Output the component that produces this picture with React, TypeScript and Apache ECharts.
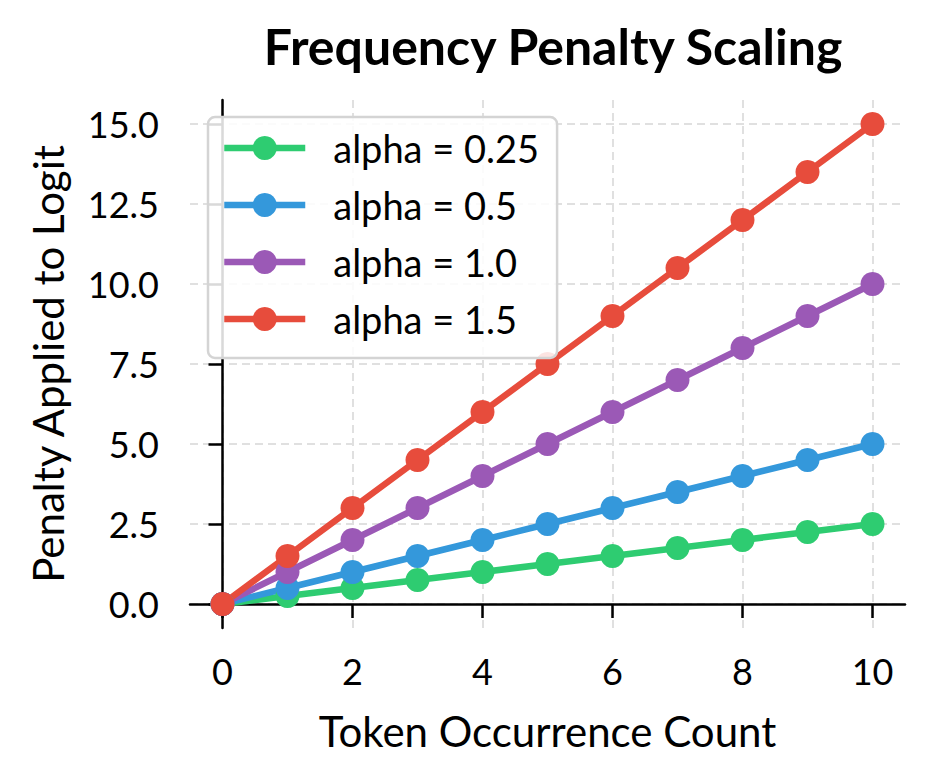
// Frequency penalty: penalty applied to the logit vs. token occurrence count, one line per alpha.
import { useEffect, useRef } from 'react'
import * as echarts from 'echarts'

const COUNTS = [0, 1, 2, 3, 4, 5, 6, 7, 8, 9, 10]
const ALPHA_025 = [0, 0.25, 0.5, 0.75, 1, 1.25, 1.5, 1.75, 2, 2.25, 2.5]
const ALPHA_05 = [0, 0.5, 1, 1.5, 2, 2.5, 3, 3.5, 4, 4.5, 5]
const ALPHA_10 = [0, 1, 2, 3, 4, 5, 6, 7, 8, 9, 10]
const ALPHA_15 = [0, 1.5, 3, 4.5, 6, 7.5, 9, 10.5, 12, 13.5, 15]

const X_TICKS = [0, 2, 4, 6, 8, 10]
const Y_TICKS = [0, 2.5, 5, 7.5, 10, 12.5, 15]

const SERIES = [
  { name: 'alpha = 0.25', color: '#2ecc71', values: ALPHA_025 },
  { name: 'alpha = 0.5', color: '#3498db', values: ALPHA_05 },
  { name: 'alpha = 1.0', color: '#9b59b6', values: ALPHA_10 },
  { name: 'alpha = 1.5', color: '#e74c3c', values: ALPHA_15 },
]

const FONT = 'Lato, sans-serif'
const GRID_LINE = { show: true, lineStyle: { color: '#e0e0e0', width: 2, type: [8, 5] as number[] } }

export default function App() {
  const ref = useRef<HTMLDivElement>(null)

  useEffect(() => {
    if (!ref.current) return
    const chart = echarts.init(ref.current, null, { renderer: 'svg' })

    chart.setOption({
      animation: false,
      backgroundColor: '#fff',
      textStyle: { fontFamily: FONT, color: '#000' },
      title: {
        text: 'Frequency Penalty Scaling',
        left: 548,
        top: 16,
        textAlign: 'center',
        textStyle: { fontFamily: FONT, fontSize: 50, fontWeight: 'bold', color: '#000' },
      },
      grid: { left: 190, right: 29, top: 100, bottom: 156, containLabel: false },
      legend: {
        orient: 'vertical',
        left: 208,
        top: 117,
        padding: [12, 18, 20, 13],
        itemWidth: 81,
        itemHeight: 30,
        itemGap: 19,
        backgroundColor: 'rgba(255,255,255,0.85)',
        borderColor: '#d4d4d4',
        borderWidth: 2.5,
        borderRadius: 7,
        lineStyle: { width: 6.5 },
        textStyle: { fontFamily: FONT, fontSize: 38, color: '#000', padding: [0, 0, 0, 23] },
        data: SERIES.map((s) => s.name),
      },
      xAxis: {
        type: 'value',
        min: -0.5,
        max: 10.5,
        name: 'Token Occurrence Count',
        nameLocation: 'middle',
        nameGap: 82,
        nameTextStyle: { fontFamily: FONT, fontSize: 42, color: '#000' },
        axisLine: { show: true, lineStyle: { color: '#000', width: 2.5 } },
        axisTick: { show: true, length: 14, lineStyle: { color: '#000', width: 2.5 }, customValues: X_TICKS },
        axisLabel: { fontFamily: FONT, fontSize: 36, color: '#000', margin: 25, customValues: X_TICKS },
        splitLine: GRID_LINE,
      },
      yAxis: {
        type: 'value',
        min: -0.75,
        max: 15.75,
        name: 'Penalty Applied to Logit',
        nameLocation: 'middle',
        nameGap: 121,
        nameTextStyle: { fontFamily: FONT, fontSize: 42, color: '#000' },
        axisLine: { show: true, lineStyle: { color: '#000', width: 2.5 } },
        axisTick: { show: true, length: 14, lineStyle: { color: '#000', width: 2.5 }, customValues: Y_TICKS },
        axisLabel: {
          fontFamily: FONT,
          fontSize: 36,
          color: '#000',
          margin: 31,
          customValues: Y_TICKS,
          formatter: (v: number) => v.toFixed(1),
        },
        splitLine: GRID_LINE,
      },
      series: SERIES.map((s) => ({
        type: 'line',
        name: s.name,
        data: COUNTS.map((c, i) => [c, s.values[i]]),
        symbol: 'circle',
        symbolSize: 24,
        color: s.color,
        lineStyle: { color: s.color, width: 6.5 },
        itemStyle: { color: s.color },
      })),
    })

    return () => chart.dispose()
  }, [])

  return <div ref={ref} style={{ width: 934, height: 784, margin: -8 }} />
}
